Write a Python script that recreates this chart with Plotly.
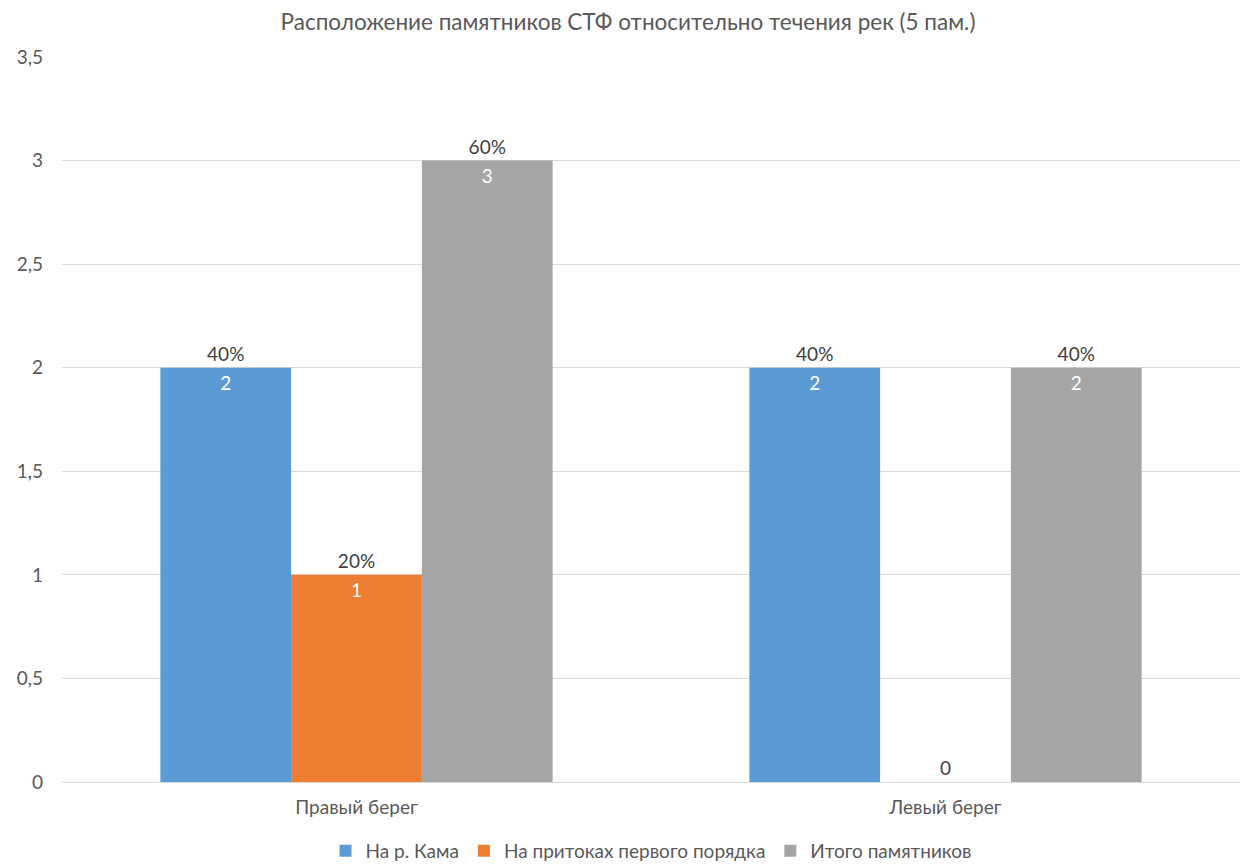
import plotly.graph_objects as go

categories = ["Правый берег", "Левый берег"]
series_names = ["На р. Кама", "На притоках первого порядка", "Итого памятников"]
kama = [2, 2]
pritoki = [1, 0]
itogo = [3, 2]
total_sites = 5
colors = ["#5B9BD5", "#ED7D31", "#A5A5A5"]
y_ticks = [0, 0.5, 1, 1.5, 2, 2.5, 3, 3.5]
y_tick_labels = ["0", "0,5", "1", "1,5", "2", "2,5", "3", "3,5"]

FONT = "Lato, 'Open Sans', sans-serif"
TXT = "#595959"
LBL = "#404040"

fig = go.Figure()
all_series = [kama, pritoki, itogo]
for name, vals, col in zip(series_names, all_series, colors):
    fig.add_trace(go.Bar(
        x=categories, y=vals, name=name, offsetgroup=name,
        marker=dict(color=col, line=dict(width=0)),
        text=[str(v) for v in vals],
        textposition=["inside" if v > 0 else "outside" for v in vals],
        insidetextanchor="end",
        insidetextfont=dict(color="white", size=19, family=FONT),
        outsidetextfont=dict(color=LBL, size=19, family=FONT),
        cliponaxis=False, textangle=0, constraintext="none",
    ))
    pct = [f"{round(v / total_sites * 100)}%" if v > 0 else "" for v in vals]
    fig.add_trace(go.Bar(
        x=categories, y=vals, name=name + " %", offsetgroup=name,
        marker=dict(color="rgba(0,0,0,0)", line=dict(width=0)),
        text=pct, textposition="outside",
        outsidetextfont=dict(color=LBL, size=19, family=FONT),
        showlegend=False, hoverinfo="skip", cliponaxis=False, textangle=0,
        constraintext="none",
    ))

fig.update_layout(
    width=1240, height=857,
    barmode="group", bargap=0.334, bargroupgap=0,
    plot_bgcolor="white", paper_bgcolor="white",
    margin=dict(l=54, r=8, t=49, b=83, autoexpand=False),
    font=dict(family=FONT, color=TXT, size=19),
    title=dict(text="Расположение памятников СТФ относительно течения рек (5 пам.)",
               x=0.5, xanchor="center", y=0.984, yanchor="middle",
               font=dict(size=22.5, color=TXT, family=FONT)),
    legend=dict(orientation="h", x=0.5, xanchor="center", y=-0.095, yanchor="middle",
                font=dict(size=19, color=TXT, family=FONT), traceorder="normal",
                itemwidth=30),
    showlegend=True,
)
fig.update_yaxes(range=[0, 3.5], tickvals=y_ticks, ticktext=y_tick_labels,
                 showgrid=True, gridcolor="#D9D9D9", gridwidth=1,
                 zeroline=False, showline=False, ticks="", automargin=False,
                 ticklabelstandoff=18, tickfont=dict(size=19, color=TXT))
fig.update_xaxes(showline=True, linecolor="#D9D9D9", linewidth=1, ticks="",
                 automargin=False, ticklabelstandoff=8,
                 tickfont=dict(size=19, color=TXT))

fig.write_html("out.html")
